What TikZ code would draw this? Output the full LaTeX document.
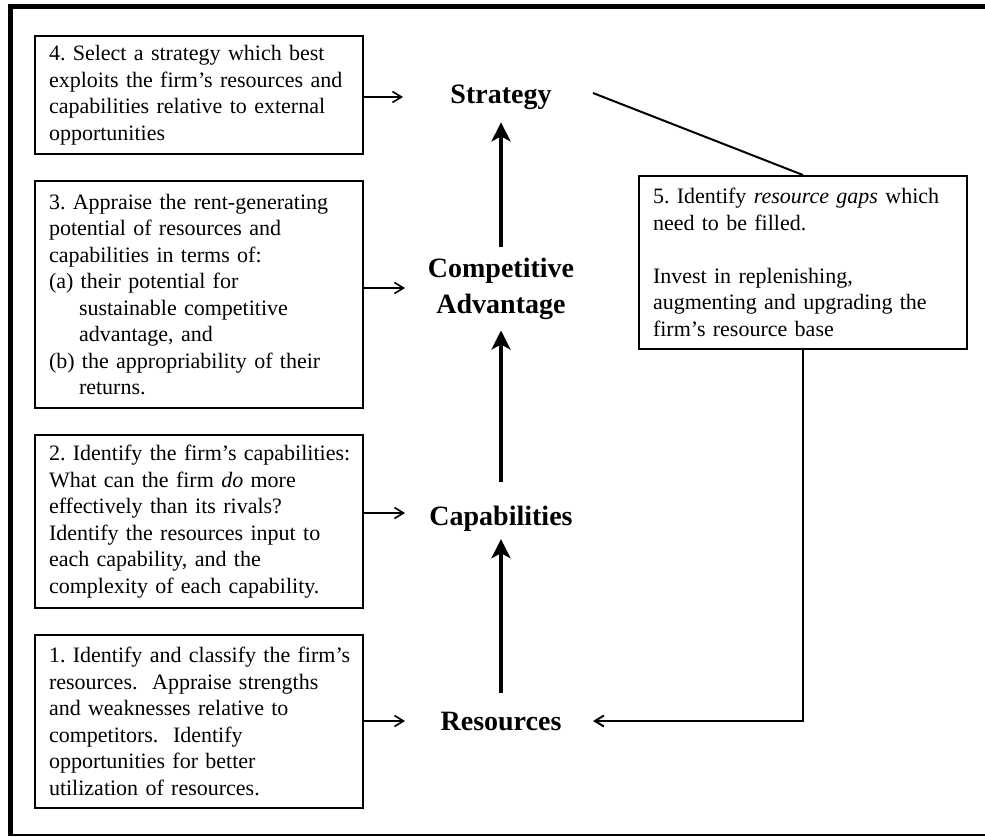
\documentclass[tikz,border=0pt]{standalone}
\usepackage{fontspec}
\setmainfont{Liberation Serif}
\usetikzlibrary{arrows.meta}
\begin{document}
\begin{tikzpicture}[x=1pt,y=-1pt,
  stepbox/.style={draw, line width=2pt, anchor=north west, text width=300pt,
    inner xsep=14pt, inner ysep=0pt, align=left,
    font=\fontsize{22}{26.5}\selectfont,
    execute at begin node={\frenchspacing\hyphenpenalty=10000\relax}},
  mainlabel/.style={inner sep=0pt, align=center, font=\fontsize{28}{36}\selectfont\bfseries},
  thinarrow/.style={line width=1.6pt, -{Straight Barb[length=9pt,width=11pt]}},
  thickarrow/.style={line width=4pt, -{Stealth[length=19pt,width=19pt,inset=5pt]}},
  plainline/.style={line width=2pt}]
\useasboundingbox (0,0) rectangle (985,836);
% frame
\draw[line width=5pt] (8,6.5) -- (985,6.5);
\draw[line width=5pt] (10.5,4) -- (10.5,836);
\draw[line width=1.5pt] (8,835) -- (985,835);

% step boxes
\node[stepbox, minimum height=118pt] (b4) at (34,35)
  {4. Select a strategy which best\\
   exploits the firm’s resources and\\
   capabilities relative to external\\
   opportunities};
\node[stepbox, minimum height=227pt] (b3) at (34,180)
  {3. Appraise the rent-generating\\
   potential of resources and\\
   capabilities in terms of:\\
   (a) their potential for\\
   \hspace*{30pt}sustainable competitive\\
   \hspace*{30pt}advantage, and\\
   (b) the appropriability of their\\
   \hspace*{30pt}returns.};
\node[stepbox, minimum height=173pt] (b2) at (34,434)
  {\mbox{2. Identify the firm’s capabilities:}\\
   What can the firm \textit{do} more\\
   effectively than its rivals?\\
   Identify the resources input to\\
   each capability, and the\\
   complexity of each capability.};
\node[stepbox, minimum height=173pt] (b1) at (34,634)
  {\mbox{1. Identify and classify the firm’s}\\
   resources.\ \ Appraise strengths\\
   and weaknesses relative to\\
   competitors.\ \ Identify\\
   opportunities for better\\
   utilization of resources.};
\node[stepbox, minimum height=173pt] (b5) at (638,175)
  {5. Identify \textit{resource gaps} which\\
   need to be filled.\\[26.5pt]
   Invest in replenishing,\\
   augmenting and upgrading the\\
   firm’s resource base};

% main labels
\node[mainlabel, anchor=base] (strat) at (501,103) {Strategy};
\node[mainlabel] (comp) at (501,288.5) {Competitive\\Advantage};
\node[mainlabel, anchor=base] (cap) at (501,525) {Capabilities};
\node[mainlabel, anchor=base] (res) at (501,730) {Resources};

% vertical arrows
\draw[thickarrow, shorten <=18.5pt, shorten >=8pt] (res.north) -- (cap.south);
\draw[thickarrow, shorten <=23pt, shorten >=11pt] (cap.north) -- (comp.south);
\draw[thickarrow, shorten <=11pt, shorten >=13pt] (comp.north) -- (strat.south);

% horizontal arrows
\coordinate (t4) at (403,97);
\coordinate (t3) at (405,288);
\coordinate (t2) at (405,513);
\coordinate (t1) at (405,721);
\draw[thinarrow] (b4.east |- t4) -- (t4);
\draw[thinarrow] (b3.east |- t3) -- (t3);
\draw[thinarrow] (b2.east |- t2) -- (t2);
\draw[thinarrow] (b1.east |- t1) -- (t1);

% box 5 connectors
\coordinate (s5) at (593,93);
\draw[plainline] (s5) -- (b5.north);
\coordinate (t5) at (593,721);
\draw[thinarrow, line width=2pt] (b5.south) |- (t5);
\end{tikzpicture}
\end{document}
